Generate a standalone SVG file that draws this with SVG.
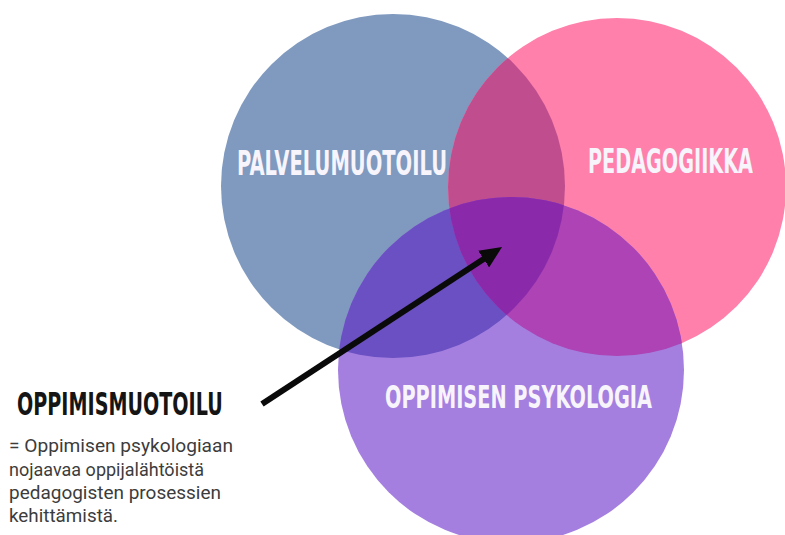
<svg xmlns="http://www.w3.org/2000/svg" width="785" height="535" viewBox="0 0 785 535">
  <style>
    .title { font-family: "DejaVu Sans", "Liberation Sans", sans-serif; font-weight: bold; fill: #f7f4fb; }
    .dark { fill: #151515; }
    .body { font-family: Roboto, "Liberation Sans", sans-serif; font-size: 19px; fill: #3c3c3c; }
  </style>
  <defs>
    <clipPath id="clipA"><circle cx="393" cy="186" r="172"/></clipPath>
    <clipPath id="clipB"><circle cx="617" cy="187" r="169"/></clipPath>
    <clipPath id="clipC"><circle cx="511" cy="370" r="173"/></clipPath>
    <marker id="arrowhead" viewBox="0 -10 22 20" refX="10" refY="0" markerWidth="22" markerHeight="20" markerUnits="userSpaceOnUse" orient="auto">
      <path d="M0,-10 L22,0 L0,10 Z" fill="#0a0a0a"/>
    </marker>
  </defs>
  <rect width="785" height="535" fill="#ffffff"/>

  <g id="node-palvelumuotoilu">
    <circle cx="393" cy="186" r="172" fill="#7f99bf"/>
  </g>
  <g id="node-pedagogiikka">
    <circle cx="617" cy="187" r="169" fill="#fe80ab"/>
  </g>
  <g id="node-oppimisen-psykologia">
    <circle cx="511" cy="370" r="173" fill="#a47fdf"/>
  </g>

  <g id="overlaps">
    <circle cx="617" cy="187" r="169" fill="#c04e8e" clip-path="url(#clipA)"/>
    <circle cx="511" cy="370" r="173" fill="#6a50c2" clip-path="url(#clipA)"/>
    <circle cx="511" cy="370" r="173" fill="#ad43b4" clip-path="url(#clipB)"/>
    <g clip-path="url(#clipB)">
      <circle cx="511" cy="370" r="173" fill="#8a2aab" clip-path="url(#clipA)"/>
    </g>
  </g>

  <g id="labels">
    <text class="title" transform="translate(237,175) scale(0.6,1)" font-size="34" textLength="350" lengthAdjust="spacingAndGlyphs">PALVELUMUOTOILU</text>
    <text class="title" transform="translate(588,173) scale(0.6,1)" font-size="33" textLength="275" lengthAdjust="spacingAndGlyphs">PEDAGOGIIKKA</text>
    <text class="title" transform="translate(385,408) scale(0.6,1)" font-size="32" textLength="445" lengthAdjust="spacingAndGlyphs">OPPIMISEN PSYKOLOGIA</text>
  </g>

  <g id="node-oppimismuotoilu">
    <text class="title dark" transform="translate(17,415) scale(0.6,1)" font-size="32" textLength="343" lengthAdjust="spacingAndGlyphs">OPPIMISMUOTOILU</text>
    <text class="body" x="9" y="452" textLength="224" lengthAdjust="spacingAndGlyphs">= Oppimisen psykologiaan</text>
    <text class="body" x="9" y="476" textLength="195" lengthAdjust="spacingAndGlyphs">nojaavaa oppijalähtöistä</text>
    <text class="body" x="9" y="499" textLength="212" lengthAdjust="spacingAndGlyphs">pedagogisten prosessien</text>
    <text class="body" x="9" y="522" textLength="109" lengthAdjust="spacingAndGlyphs">kehittämistä.</text>
  </g>

  <g id="connectors">
    <line x1="262" y1="404" x2="492" y2="253.6" stroke="#0a0a0a" stroke-width="6" marker-end="url(#arrowhead)"/>
  </g>
</svg>
